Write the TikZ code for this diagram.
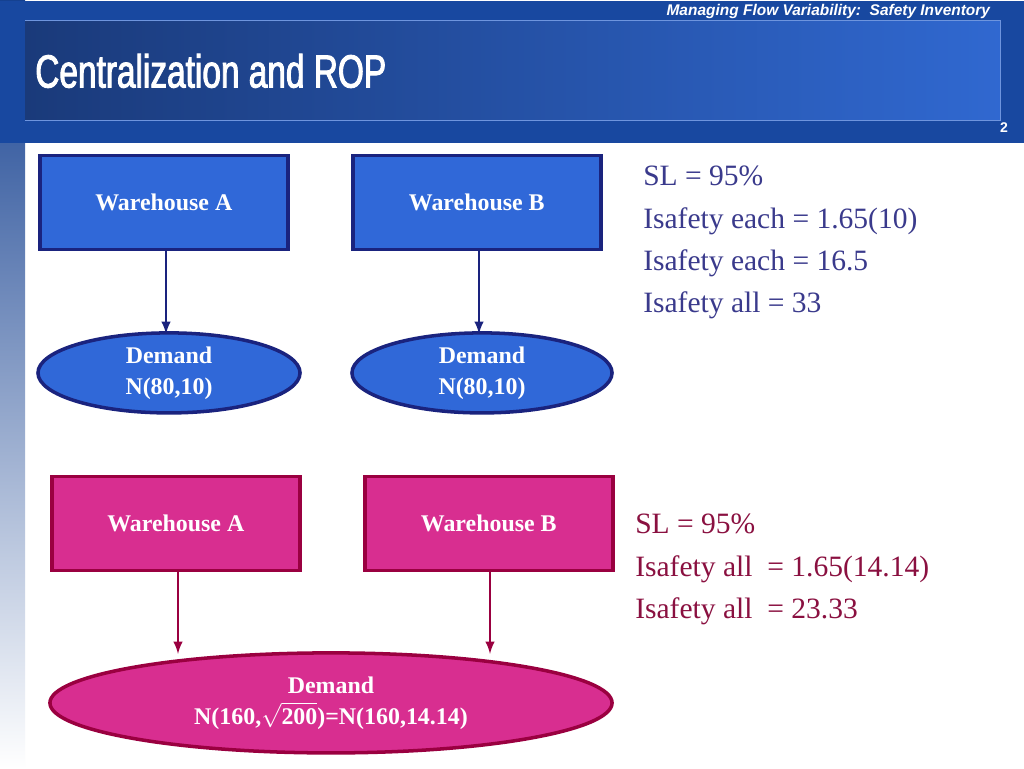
\documentclass[tikz,border=0pt]{standalone}
\usepackage{fontspec}
\setmainfont{Liberation Serif}
\newfontfamily\headfont{Liberation Sans}
\newfontfamily\titlefont[FakeStretch=0.72,FakeBold=2]{Liberation Sans}
\usetikzlibrary{arrows,positioning,shapes.geometric}
\definecolor{hdark}{HTML}{1A3A7A}
\definecolor{hlight}{HTML}{3068D0}
\definecolor{hband}{HTML}{1848A0}
\definecolor{bfill}{HTML}{3068D8}
\definecolor{bline}{HTML}{1A237E}
\definecolor{pfill}{HTML}{D82E90}
\definecolor{pline}{HTML}{9A0040}
\definecolor{btext}{HTML}{3A3A8C}
\definecolor{ptext}{HTML}{8A1040}
\begin{document}
\begin{tikzpicture}
		[x=0.025cm,y=-0.025cm,
		wbox/.style={shape=rectangle,draw,line width=2.5pt,minimum width=6.2cm,minimum height=2.35cm,anchor=north west,font=\fontsize{17}{20}\selectfont\bfseries,text=white,text depth=0pt},
		blue box/.style={wbox,fill=bfill,draw=bline},
		pink box/.style={wbox,fill=pfill,draw=pline},
		dem/.style={shape=ellipse,draw,line width=2.5pt,font=\fontsize{17}{22}\selectfont\bfseries,text=white,align=center,inner sep=0pt},
		arr/.style={-latex,line width=2pt}
		]
		
		% background
		\fill[white] (0,0) rectangle (1024,768);
		\shade[top color=hband!90!black,bottom color=white] (0,0) rectangle (25,768);
		\fill[hband] (0,0) rectangle (1024,142);
		\shade[left color=hdark,right color=hlight] (25,20) rectangle (1000,120);
		\draw[hlight!70!white,line width=0.6pt] (25,20) -- (1000,20) -- (1000,120) -- (25,120);
		
		\node[anchor=east,text=white,font=\headfont\fontsize{11}{13}\selectfont\bfseries\itshape] (hd) at (995,11) {Managing Flow Variability:\ \ Safety Inventory};
		\node[anchor=west,text=white,font=\titlefont\fontsize{33}{36}\selectfont,inner sep=0pt] (title) at (35,70) {Centralization and ROP};
		\node[anchor=east,text=white,font=\headfont\fontsize{10}{12}\selectfont\bfseries] (pg) at (1013,127) {2};
		
		% decentralized
		\node [blue box] (wa) at (38,153) {Warehouse A};
		\node [blue box] (wb) at (351,153) {Warehouse B};
		\node [dem,fill=bfill,draw=bline,minimum width=6.55cm,minimum height=2cm] (da) at (169,372) {Demand\\N(80,10)};
		\node [dem,fill=bfill,draw=bline,minimum width=6.5cm,minimum height=2cm] (db) at (482,372) {Demand\\N(80,10)};
		\draw[arr,bline] (166,250) -- (166,333);
		\draw[arr,bline] (479,250) -- (479,333);
		
		\node[anchor=north west,text=btext,align=left,font=\fontsize{21}{30}\selectfont,inner sep=0pt] (t1) at (643,165) {SL = 95\%\\Isafety each = 1.65(10)\\Isafety each = 16.5\\Isafety all = 33};
		
		% centralized
		\node [pink box] (pa) at (50,474) {Warehouse A};
		\node [pink box] (pb) at (363,474) {Warehouse B};
		\node [dem,fill=pfill,draw=pline,minimum width=14.05cm,minimum height=2.5cm] (dc) at (331,702) {Demand\\N(160,$\sqrt{\mathbf{200}}$)=N(160,14.14)};
		\draw[arr,pline] (178,571) -- (178,653);
		\draw[arr,pline] (490,571) -- (490,653);
		
		\node[anchor=north west,text=ptext,align=left,font=\fontsize{21}{30}\selectfont,inner sep=0pt] (t2) at (635,513) {SL = 95\%\\Isafety all\ \ = 1.65(14.14)\\Isafety all\ \ = 23.33};
		
		\end{tikzpicture}
\end{document}
